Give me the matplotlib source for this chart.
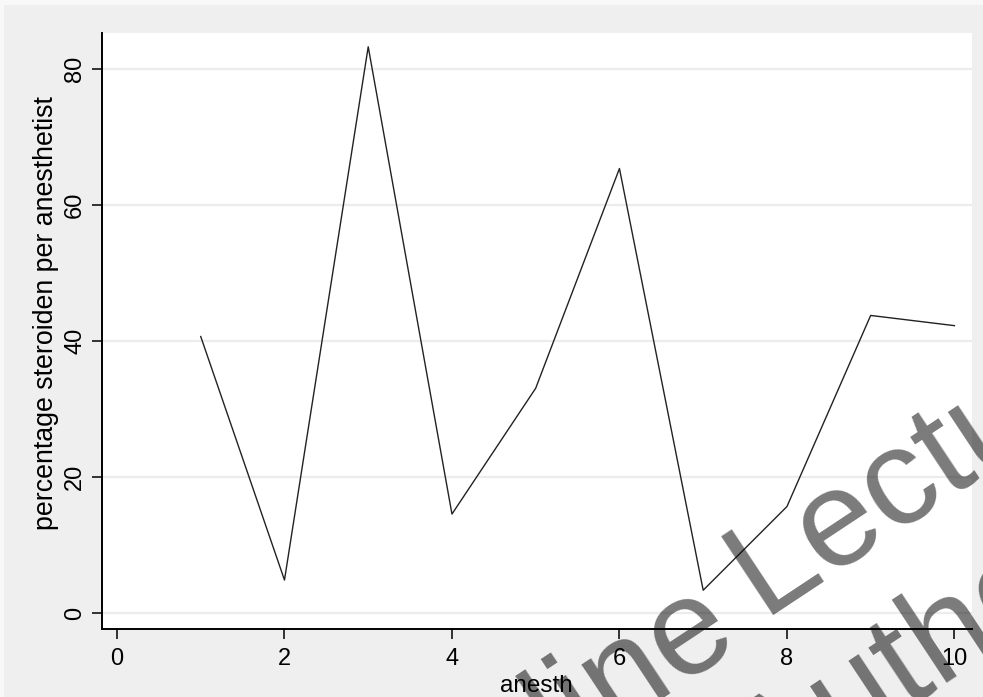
import matplotlib
matplotlib.use("Agg")
import matplotlib.pyplot as plt
import numpy as np
from matplotlib.patches import Rectangle

# Share of steroid use per anesthetist
anesth = [1, 2, 3, 4, 5, 6, 7, 8, 9, 10]
pct_steroid = [40.7, 4.9, 83.3, 14.6, 33.1, 65.4, 3.4, 15.7, 43.8, 42.3]
x_ticks = [0, 2, 4, 6, 8, 10]
y_ticks = [0, 20, 40, 60, 80]

plt.rcParams['font.family'] = ['Liberation Sans', 'DejaVu Sans']

W, H = 983, 697
fig = plt.figure(figsize=(W / 100, H / 100), dpi=100)
fig.patch.set_facecolor('#f8f8f8')
fig.patches.append(Rectangle((4 / W, 0), 1, 1 - 5 / H, transform=fig.transFigure,
                             facecolor='#efefef', edgecolor='none', zorder=-10))

ax = fig.add_axes([101.5 / W, 1 - 629 / H, (972 - 101.5) / W, (629 - 32.5) / H])
ax.set_facecolor('white')
ax.plot(anesth, pct_steroid, color='#222222', lw=1.0, zorder=3)

ax.set_xlim(-0.185, 10.21)
ax.set_ylim(-2.3, 85.4)
ax.set_xticks(x_ticks)
ax.set_yticks(y_ticks)
ax.grid(axis='y', color='#ececec', lw=1.6, zorder=0)
ax.set_axisbelow(True)

for side in ('top', 'right'):
    ax.spines[side].set_visible(False)
for side in ('left', 'bottom'):
    ax.spines[side].set_linewidth(1.4)
    ax.spines[side].set_color('black')

ax.tick_params(axis='both', direction='out', length=7, width=1.1, labelsize=17,
               colors='black')
ax.tick_params(axis='x', pad=7)
ax.tick_params(axis='y', pad=4, labelrotation=90)
for lbl in ax.get_yticklabels():
    lbl.set_va('center')

ax.set_xlabel('anesth', fontsize=17.5, va='baseline')
ax.xaxis.set_label_coords(0.5, (629 - 692) / (629 - 32.5))
ax.set_ylabel('percentage steroiden per anesthetist', fontsize=19.3,
              ha='center', va='center', rotation_mode='anchor')
ax.yaxis.set_label_coords((46.5 - 101.5) / (972 - 101.5), (629 - 313.5) / (629 - 32.5))

# Diagonal watermark, placed in pixel units from the top-left corner
ang = 33.5
rad = np.deg2rad(ang)
d = np.array([np.cos(rad), -np.sin(rad)])     # along the baseline
nrm = np.array([np.sin(rad), np.cos(rad)])    # towards the text's bottom
em = 138.0

L_corner = np.array([770.0, 610.0])
A = L_corner - d * 0.073 * em
i_dot = np.array([555.0, 656.0])
B = i_dot + d * 1.183 * em + nrm * 0.66 * em
h_top = np.array([893.0, 600.0])
C = h_top - d * 1.571 * em + nrm * 0.716 * em


def fpos(p):
    return p[0] / W, 1 - p[1] / H


wm = dict(fontsize=em * 0.72, rotation=ang, rotation_mode='anchor', va='baseline',
          color='black', alpha=0.52, zorder=10)
fig.text(*fpos(A), 'Lecture', ha='left', **wm)
fig.text(*fpos(B), 'Online', ha='right', **wm)
fig.text(*fpos(C), 'Author', ha='left', **wm)

fig.savefig('out.png', dpi=100, facecolor=fig.get_facecolor())
